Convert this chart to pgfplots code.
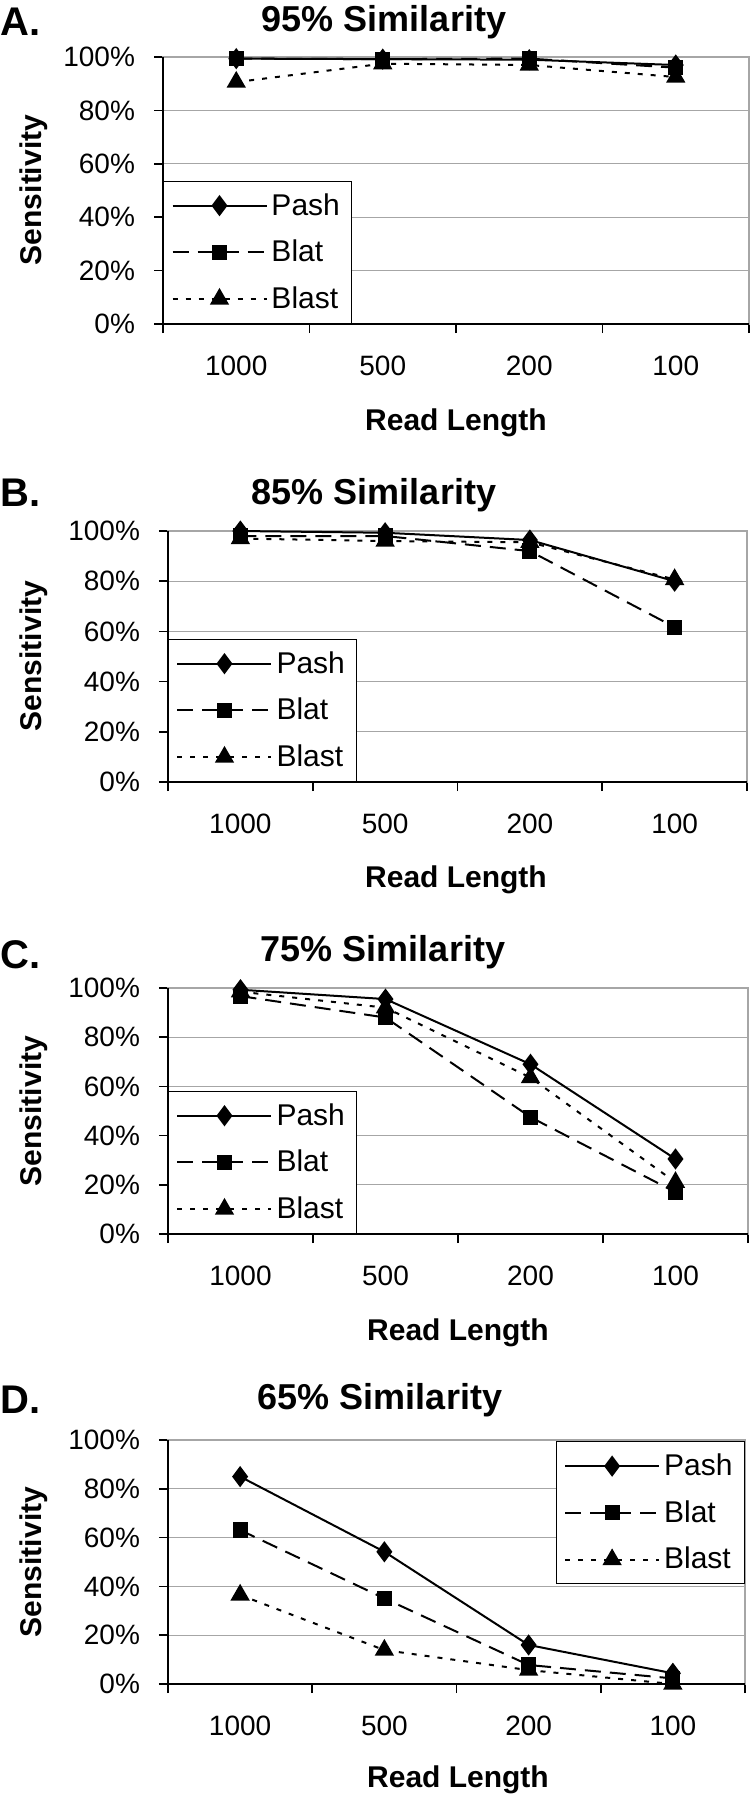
\documentclass[border=0pt]{standalone}
\usepackage{pgfplots}
\pgfplotsset{compat=1.18}
\usepackage{pgfplotstable}
\usepackage{fontspec}
\setmainfont{Liberation Sans}

\pgfplotstableread{
x pash blat blast
0 99.4 99.4 90.6
1 99.2 99.2 97.5
2 99.0 99.4 97.0
3 97.0 96.0 92.5
}\dataA
\pgfplotstableread{
x pash blat blast
0 100.0 98.0 97.0
1 99.3 98.0 96.0
2 96.4 92.0 95.5
3 80.0 61.7 80.7
}\dataB
\pgfplotstableread{
x pash blat blast
0 99.3 96.7 98.5
1 95.5 88.0 92.0
2 69.0 47.5 63.6
3 30.5 17.0 21.0
}\dataC
\pgfplotstableread{
x pash blat blast
0 85.0 63.1 36.5
1 54.2 35.1 13.9
2 16.0 7.8 5.7
3 4.4 2.3 0.0
}\dataD

\pgfplotsset{
  panel/.style={
    scale only axis, anchor=south west,
    xmin=-0.5, xmax=3.5, ymin=0, ymax=100,
    xtick={0,1,2,3}, xticklabels={1000,500,200,100},
    minor xtick={-0.5,0.5,1.5,2.5,3.5},
    ytick={0,20,40,60,80,100},
    yticklabel={\pgfmathprintnumber{\tick}\%},
    /pgf/number format/assume math mode=true,
    tick align=outside, xtick pos=bottom, ytick pos=left,
    major tick length=4.5pt, minor tick length=4.5pt,
    tick style={black, line width=0.8pt},
    every major x tick/.append style={draw=none},
    ymajorgrids, grid style={gray!70, line width=0.6pt},
    axis line style={gray!70, line width=0.6pt},
    tick label style={font=\fontsize{14}{16}\selectfont},
    xticklabel style={yshift=-8pt},
    yticklabel style={xshift=-6pt},
    clip=false,
    legend cell align=left,
    legend style={draw=black, line width=0.5pt, fill=white,
      font=\fontsize{15}{17}\selectfont, inner xsep=4pt, inner ysep=4pt, row sep=7pt},
    legend image code/.code={\draw[mark repeat=2,mark phase=2,##1] plot coordinates {(0pt,0pt)(23.5pt,0pt)(47pt,0pt)};},
  },
  pash/.style={black, line width=1pt, solid, mark=diamond*, mark size=4.5pt, mark options={solid}},
  blat/.style={black, line width=1pt, dash pattern=on 8pt off 4.5pt, mark=square*, mark size=3.3pt, mark options={solid}},
  blast/.style={black, line width=1pt, dash pattern=on 2.5pt off 4pt, mark=triangle*, mark size=4.6pt, mark options={solid}},
}

\newcommand{\panelplots}[1]{%
  \addplot[pash] table[x=x,y=pash] {#1};
  \addlegendentry{Pash}
  \addplot[blat] table[x=x,y=blat] {#1};
  \addlegendentry{Blat}
  \addplot[blast] table[x=x,y=blast] {#1};
  \addlegendentry{Blast}
  \draw[black, line width=1pt] (rel axis cs:0,1) -- (rel axis cs:0,0) -- (rel axis cs:1,0);
}

\tikzset{
  ttl/.style={font=\bfseries\fontsize{18}{21}\selectfont},
  lett/.style={font=\bfseries\fontsize{20}{22}\selectfont, anchor=west, inner sep=0pt},
  albl/.style={font=\bfseries\fontsize{15}{18}\selectfont},
}

\begin{document}
\begin{tikzpicture}
\path[use as bounding box] (0,0) rectangle (375.5pt,-900pt);

% Panel A
\begin{axis}[panel, at={(81.5pt,-162pt)}, width=293pt, height=133.5pt,
  legend style={at={(0,0)}, anchor=south west}]
  \panelplots{\dataA}
\end{axis}
\node[lett] at (0pt,-11pt) {A.};
\node[ttl] at (192pt,-11pt) {95\% Similarity};
\node[albl] at (228pt,-211.5pt) {Read Length};
\node[albl, rotate=90] at (17pt,-95pt) {Sensitivity};

% Panel B
\begin{axis}[panel, at={(84pt,-391pt)}, width=289.5pt, height=125.5pt,
  legend style={at={(0,0)}, anchor=south west}]
  \panelplots{\dataB}
\end{axis}
\node[lett] at (0pt,-246.5pt) {B.};
\node[ttl] at (187pt,-247.5pt) {85\% Similarity};
\node[albl] at (228pt,-440pt) {Read Length};
\node[albl, rotate=90] at (17pt,-328pt) {Sensitivity};

% Panel C
\begin{axis}[panel, at={(84pt,-617pt)}, width=290pt, height=123pt,
  legend style={at={(0,0)}, anchor=south west}]
  \panelplots{\dataC}
\end{axis}
\node[lett] at (0pt,-477.5pt) {C.};
\node[ttl] at (191.5pt,-476pt) {75\% Similarity};
\node[albl] at (229pt,-666.5pt) {Read Length};
\node[albl, rotate=90] at (17pt,-555.5pt) {Sensitivity};

% Panel D
\begin{axis}[panel, at={(84pt,-842pt)}, width=288.5pt, height=122pt,
  legend style={at={(1,0.995)}, anchor=north east}]
  \panelplots{\dataD}
\end{axis}
\node[lett] at (0pt,-700pt) {D.};
\node[ttl] at (190pt,-700pt) {65\% Similarity};
\node[albl] at (229pt,-890pt) {Read Length};
\node[albl, rotate=90] at (17pt,-781pt) {Sensitivity};
\end{tikzpicture}
\end{document}
